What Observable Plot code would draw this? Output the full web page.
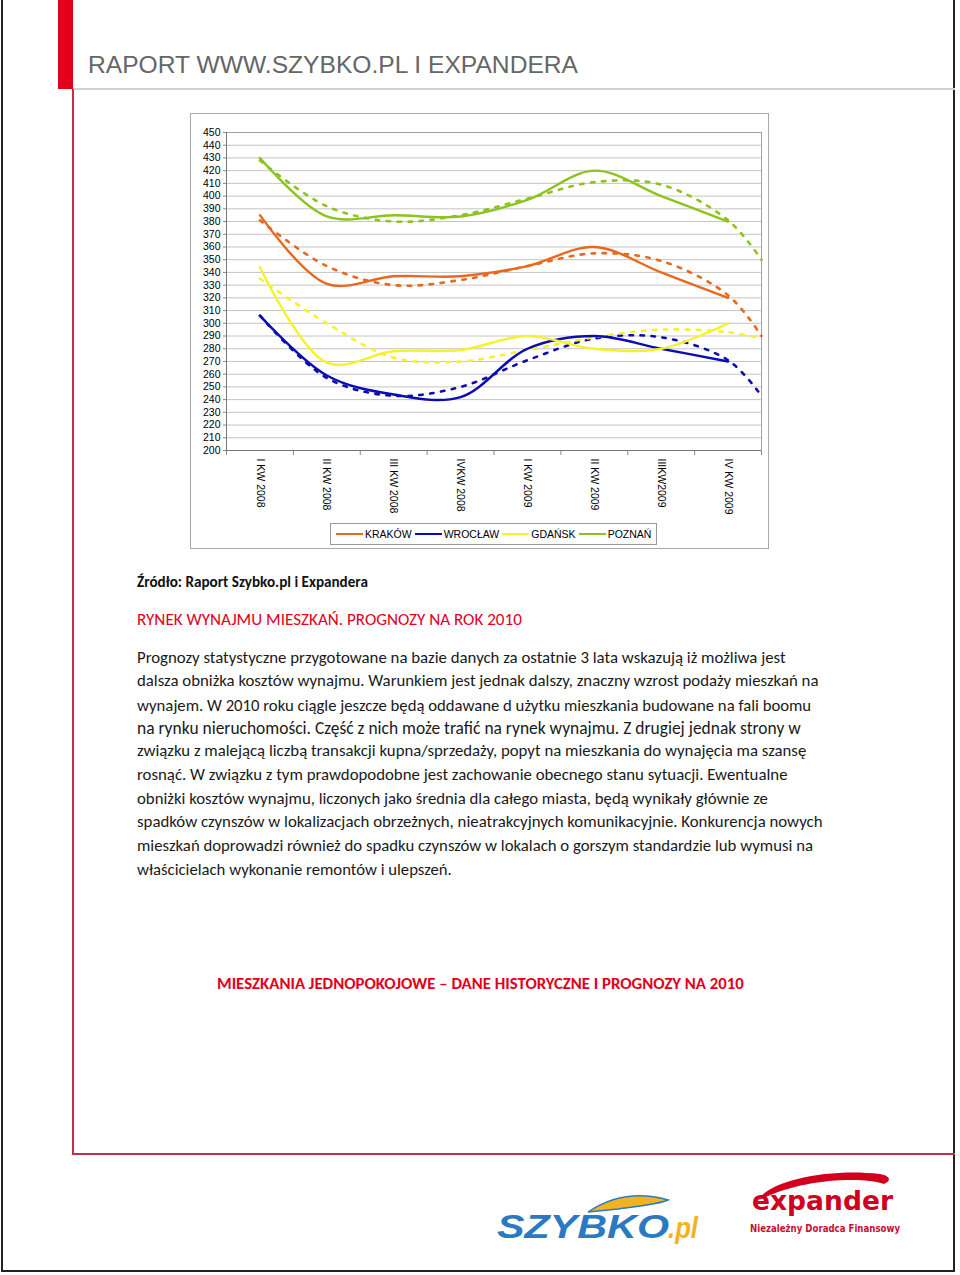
<!DOCTYPE html>
<html>
<head>
<meta charset="utf-8">
<script src="https://cdn.jsdelivr.net/npm/d3@7"></script>
<script src="https://cdn.jsdelivr.net/npm/@observablehq/plot@0.6"></script>
<style>
  html, body { margin: 0; padding: 0; background: #fff; }
  #page { position: relative; width: 960px; height: 1275px; overflow: hidden; background: #fff; }
  .abs { position: absolute; }
  .txt { position: absolute; white-space: nowrap; line-height: 20px; font-family: Carlito, Calibri, Lato, "Open Sans", sans-serif; color: #111; }
  #chartbox { position: absolute; left: 190px; top: 113px; width: 579px; height: 436px; border: 1px solid #a8a8a8; box-sizing: border-box; background: #fff; }
  #legend { position: absolute; left: 139px; top: 409px; width: 327px; height: 22px; border: 1px solid #9a9a9a; box-sizing: border-box;
            font-family: "Liberation Sans", Arial, sans-serif; font-size: 10.5px; display: flex; align-items: center; padding-left: 5px; }
  #legend .item { display: flex; align-items: center; margin-right: 3px; }
  #legend .sw { width: 27px; height: 0; border-top: 2.5px solid; margin-right: 2px; }
</style>
</head>
<body>
<div id="page">
  <!-- page frame -->
  <div class="abs" style="left:1px; top:-2px; width:954px; height:1274px; border-left:2px solid #222; border-right:2px solid #222; border-bottom:2px solid #222; box-sizing:border-box;"></div>
  <div class="abs" style="left:58px; top:0; width:15px; height:89px; background:#e2001a;"></div>
  <div class="abs" style="left:73px; top:88px; width:882px; height:2px; background:#d0d0d0;"></div>
  <div class="abs" style="left:72px; top:89px; width:2px; height:1066px; background:#c03044;"></div>
  <div class="abs" style="left:72px; top:1153px; width:883px; height:2px; background:#c03044;"></div>

  <div class="txt" id="title" style="left:88px; top:50px; line-height:30px; font-family:'Liberation Sans', Arial, sans-serif; color:#666; font-size:24.5px;">RAPORT WWW.SZYBKO.PL I EXPANDERA</div>

  <div id="chartbox"><div id="legend"></div></div>

  <div id="texts"></div>

  <svg class="abs" style="left:480px; top:1160px;" width="470" height="100" viewBox="480 1160 470 100">
    <!-- szybko wing -->
    <path d="M588,1212 C612,1196 640,1192 668,1200 C660,1204 640,1206 618,1209 Z" fill="#f2b320" stroke="#2b79c2" stroke-width="1.5"/>
    <text x="497" y="1238" font-family="'Liberation Sans', Arial, sans-serif" font-style="italic" font-weight="900" font-size="33" fill="#2b79c2" textLength="172" lengthAdjust="spacingAndGlyphs">SZYBKO</text>
    <text x="668" y="1238" font-family="'Liberation Sans', Arial, sans-serif" font-style="italic" font-weight="900" font-size="30" fill="#f2b320" textLength="30" lengthAdjust="spacingAndGlyphs">.pl</text>
    <!-- expander swoosh -->
    <path d="M758,1200 C770,1180 830,1168 880,1174 C890,1176 892,1180 884,1184 C860,1176 800,1180 764,1198 Z" fill="#d2001e"/>
    <text x="752" y="1210" font-family="'DejaVu Sans', sans-serif" font-weight="bold" font-size="27" fill="#d2001e" textLength="141" lengthAdjust="spacingAndGlyphs">expander</text>
    <text x="750" y="1232" font-family="'DejaVu Sans', sans-serif" font-weight="bold" font-size="10" fill="#c8102e" textLength="150" lengthAdjust="spacingAndGlyphs">Niezależny Doradca Finansowy</text>
  </svg>
</div>

<script>
// ---------------- DATA ----------------
const quarters = ["I KW 2008", "II KW 2008", "III KW 2008", "IVKW 2008", "I KW 2009", "II KW 2009", "IIIKW2009", "IV KW 2009"];
const cities = ["KRAKÓW", "WROCŁAW", "GDAŃSK", "POZNAŃ"];
const cityColors = ["#e8681e", "#0c0cb4", "#f4f22c", "#8cc31e"];

// actual values (solid lines), per quarter
const krakow  = [385, 331, 337, 337, 345, 360, 340, 320];
const wroclaw = [306, 259, 244, 242, 280, 290, 280, 270];
const gdansk  = [344, 269, 278, 279, 290, 280, 280, 300];
const poznan  = [430, 384, 385, 384, 397, 420, 400, 380];

// trend lines (dashed), at positions along the quarter axis (last = forecast half-step)
const trendPos = [1, 2, 3, 4, 5, 6, 7, 8, 8.5];
const krakowTrend  = [381, 345, 330, 334, 345, 355, 349, 322, 290];
const wroclawTrend = [306, 257, 243, 250, 271, 288, 289, 271, 243];
const gdanskTrend  = [335, 300, 273, 270, 279, 289, 295, 293, 288];
const poznanTrend  = [428, 392, 380, 385, 398, 411, 409, 381, 350];

const yTicks = d3.range(200, 451, 10);

// ---------------- BUILD ROWS ----------------
const series = [krakow, wroclaw, gdansk, poznan];
const trends = [krakowTrend, wroclawTrend, gdanskTrend, poznanTrend];
const actualRows = [];
series.forEach((vals, ci) => vals.forEach((v, i) => actualRows.push({city: cities[ci], x: i + 1, v})));
const trendRows = [];
trends.forEach((vals, ci) => vals.forEach((v, i) => trendRows.push({city: cities[ci], x: trendPos[i], v})));

const colorScale = {domain: cities, range: cityColors};

const chart = Plot.plot({
  width: 577,
  height: 434,
  marginLeft: 35,
  marginTop: 18,
  marginRight: 7,
  marginBottom: 98,
  x: {domain: [0.5, 8.5], label: null},
  y: {domain: [200, 450], label: null},
  color: colorScale,
  style: {fontFamily: "'Liberation Sans', Arial, sans-serif", fontSize: "10.5px", color: "#000", background: "transparent"},
  marks: [
    Plot.gridY(yTicks, {stroke: "#c4c4c4", strokeOpacity: 1, strokeWidth: 1}),
    Plot.frame({stroke: "#a0a0a0"}),
    Plot.axisY(yTicks, {tickSize: 3, tickPadding: 3, stroke: "#888", fontSize: "10.5px", label: null}),
    Plot.axisX(d3.range(0.5, 8.6, 1), {tickSize: 5, tickFormat: () => "", stroke: "#888", label: null}),
    Plot.axisX(d3.range(1, 9), {tickSize: 0, tickPadding: 8, tickRotate: 90, textAnchor: "start", lineAnchor: "middle",
      tickFormat: i => quarters[i - 1], fontSize: "10.5px", label: null}),
    Plot.ruleY([200], {stroke: "#777"}),
    Plot.ruleX([0.5], {stroke: "#777"}),
    Plot.line(trendRows, {x: "x", y: "v", z: "city", stroke: "city", strokeWidth: 2.6, strokeDasharray: "3.5,7.5", curve: "catmull-rom"}),
    Plot.line(actualRows, {x: "x", y: "v", z: "city", stroke: "city", strokeWidth: 2.4, curve: "catmull-rom"})
  ]
});
document.getElementById("chartbox").prepend(chart);
chart.style.position = "absolute";
chart.style.left = "0px";
chart.style.top = "0px";

// legend
const legend = document.getElementById("legend");
cities.forEach((c, i) => {
  const it = document.createElement("div");
  it.className = "item";
  it.innerHTML = `<span class="sw" style="border-color:${cityColors[i]}"></span><span>${c}</span>`;
  legend.appendChild(it);
});

// ---------------- TEXTS ----------------
const bodyLines = [
  "Prognozy statystyczne przygotowane na bazie danych za ostatnie 3 lata wskazują iż możliwa jest",
  "dalsza obniżka kosztów wynajmu. Warunkiem jest jednak dalszy, znaczny wzrost podaży mieszkań na",
  "wynajem. W 2010 roku ciągle jeszcze będą oddawane d użytku mieszkania budowane na fali boomu",
  "na rynku nieruchomości. Część z nich może trafić na rynek wynajmu. Z drugiej jednak strony w",
  "związku z malejącą liczbą transakcji kupna/sprzedaży, popyt na mieszkania do wynajęcia ma szansę",
  "rosnąć. W związku z tym prawdopodobne jest zachowanie obecnego stanu sytuacji. Ewentualne",
  "obniżki kosztów wynajmu, liczonych jako średnia dla całego miasta, będą wynikały głównie ze",
  "spadków czynszów w lokalizacjach obrzeżnych, nieatrakcyjnych komunikacyjnie. Konkurencja nowych",
  "mieszkań doprowadzi również do spadku czynszów w lokalach o gorszym standardzie lub wymusi na",
  "właścicielach wykonanie remontów i ulepszeń."
];
const bodyRight = [786, 819, 812, 801, 807, 788, 768, 823, 813, 452];
const bodyCenterY = [658, 681, 705, 728, 751, 775, 798, 822, 845, 869];

const host = document.getElementById("texts");
function addText(str, left, right, cy, style) {
  const el = document.createElement("div");
  el.className = "txt";
  el.textContent = str;
  el.style.left = left + "px";
  el.style.top = (cy - 10) + "px";
  Object.assign(el.style, style || {});
  el.style.fontSize = "15px";
  host.appendChild(el);
  const w = el.getBoundingClientRect().width;
  el.style.fontSize = (15 * (right - left) / w).toFixed(2) + "px";
  return el;
}
addText("Źródło: Raport Szybko.pl i Expandera", 137, 368, 582, {fontWeight: "bold", color: "#111"});
addText("RYNEK WYNAJMU MIESZKAŃ. PROGNOZY NA ROK 2010", 137, 522, 620, {color: "#e2001a"});
bodyLines.forEach((s, i) => addText(s, 137, bodyRight[i], bodyCenterY[i], {color: "#1a1a1a"}));
addText("MIESZKANIA JEDNOPOKOJOWE – DANE HISTORYCZNE I PROGNOZY NA 2010", 217, 744, 984, {fontWeight: "bold", color: "#e2001a"});

// fit title
const t = document.getElementById("title");
const tw = t.getBoundingClientRect().width;
t.style.fontSize = (24.5 * 490 / tw).toFixed(2) + "px";
</script>
</body>
</html>
